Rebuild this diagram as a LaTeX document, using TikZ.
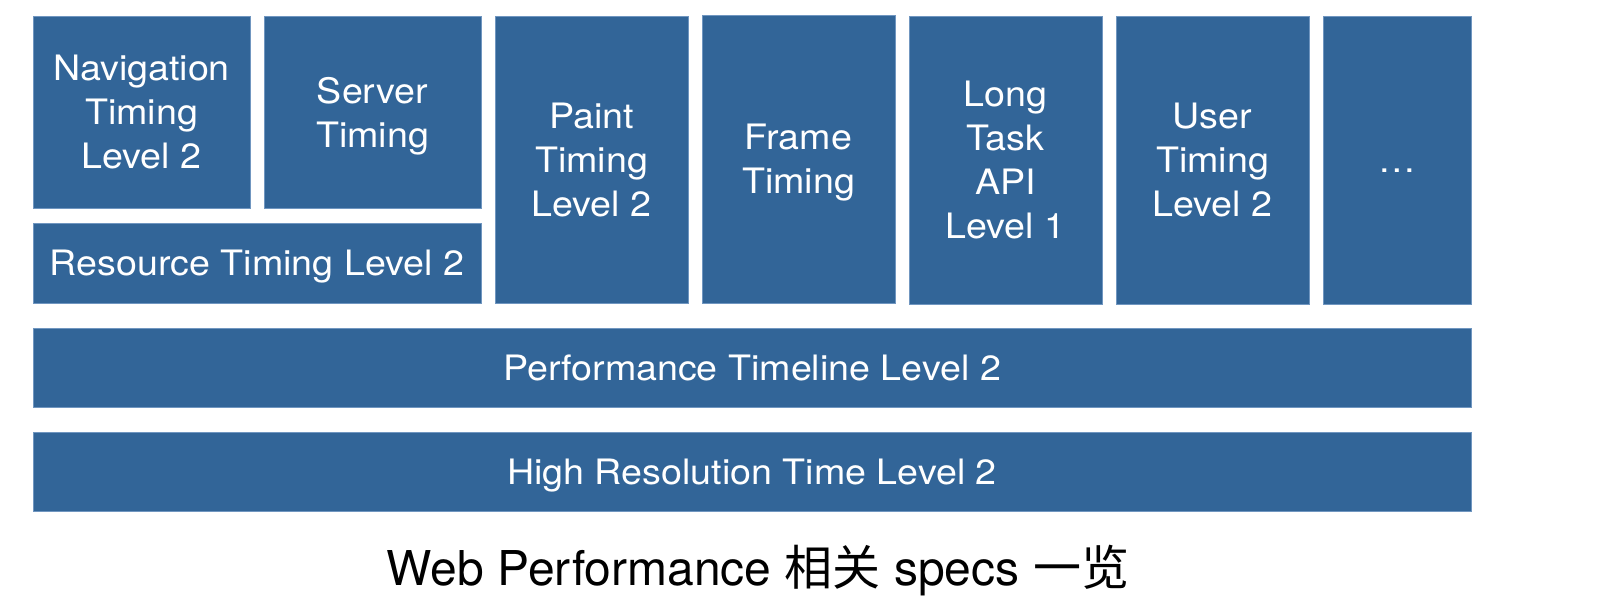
\documentclass[tikz,border=0pt]{standalone}
\usepackage{fontspec}
\setmainfont{TeX Gyre Heros}
\newfontfamily\boxfont[FakeStretch=1.075]{TeX Gyre Heros}
\newfontfamily\cjk{Noto Sans CJK SC}
\definecolor{boxblue}{RGB}{50,101,152}
\definecolor{boxedge}{RGB}{112,150,192}
\begin{document}
\begin{tikzpicture}[x=1pt,y=-1pt,
  spec/.style={draw=boxedge, line width=1pt, fill=boxblue, text=white, align=center,
    inner sep=0pt, outer sep=0pt, text depth=0pt,
    font=\boxfont\fontsize{35}{44}\selectfont, anchor=center},
  caption/.style={font=\fontsize{48}{56}\selectfont, text=black, anchor=base, inner sep=0pt}]
\useasboundingbox[fill=white] (0,0) rectangle (1604,608);
\node[spec, minimum width=217pt, minimum height=192pt] (nav) at (141.5,112) {Navigation\\Timing\\Level 2};
\node[spec, minimum width=217pt, minimum height=192pt] (server) at (372.5,112) {Server\\Timing};
\node[spec, minimum width=448pt, minimum height=80pt] (resource) at (257,263) {Resource Timing Level 2};
\node[spec, minimum width=193pt, minimum height=287pt] (paint) at (591.5,159.5) {Paint\\Timing\\Level 2};
\node[spec, minimum width=193pt, minimum height=288pt] (frame) at (798.5,159) {Frame\\Timing};
\node[spec, minimum width=193pt, minimum height=288pt] (long) at (1005.5,160) {Long\\Task\\API\\Level 1};
\node[spec, minimum width=193pt, minimum height=288pt] (user) at (1212.5,160) {User\\Timing\\Level 2};
\node[spec, minimum width=148pt, minimum height=288pt] (more) at (1397,160) {\vphantom{T}…};
\node[spec, minimum width=1438pt, minimum height=79pt] (timeline) at (752,367.5) {Performance Timeline Level 2};
\node[spec, minimum width=1438pt, minimum height=79pt] (hrtime) at (752,471.5) {High Resolution Time Level 2};
\node[caption] (title) at (758,585) {Web Performance {\cjk 相关} specs {\cjk 一览}};
\end{tikzpicture}
\end{document}
